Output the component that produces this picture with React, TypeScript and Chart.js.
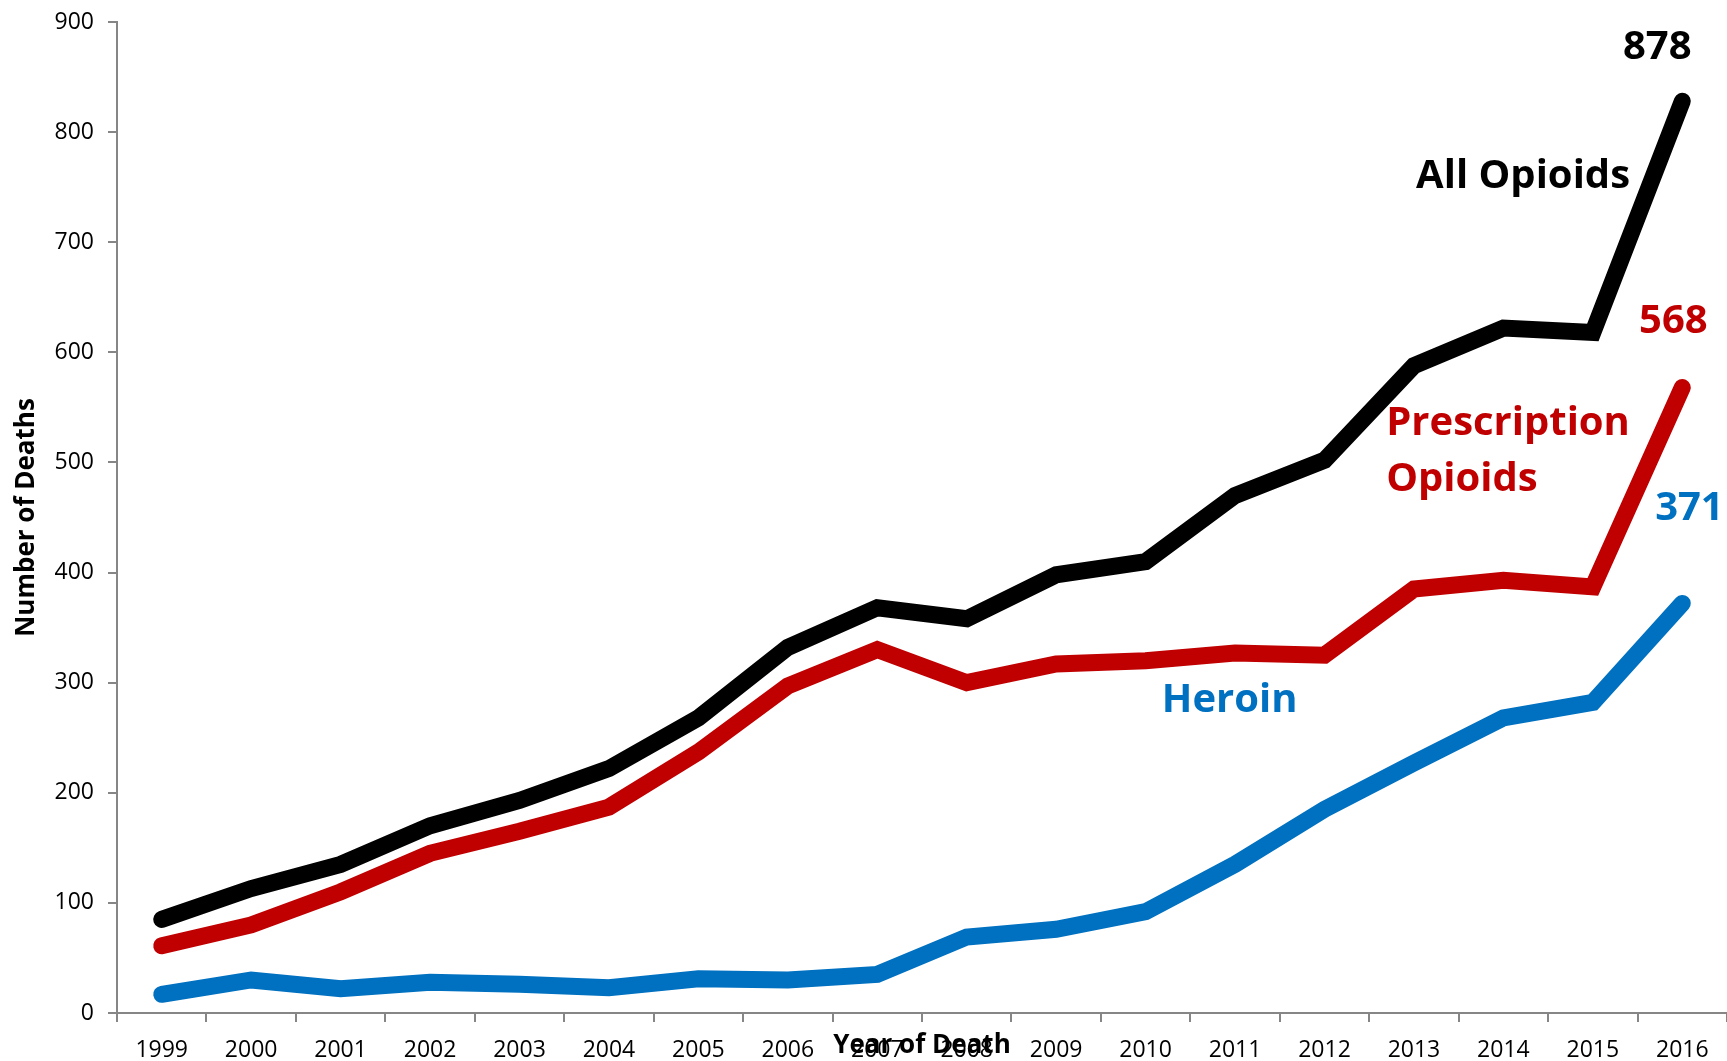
import React, { useEffect, useRef } from "react";
import { Chart, registerables } from "chart.js";

Chart.register(...registerables);

const years = ["1999", "2000", "2001", "2002", "2003", "2004", "2005", "2006", "2007", "2008", "2009", "2010", "2011", "2012", "2013", "2014", "2015", "2016"];
const allOpioids = [85, 113, 135, 170, 193, 222, 268, 332, 368, 358, 398, 410, 470, 502, 588, 622, 618, 828];
const prescriptionOpioids = [61, 80, 110, 145, 165, 187, 237, 297, 330, 300, 317, 320, 327, 325, 385, 393, 387, 568];
const heroin = [17, 30, 22, 28, 26, 23, 31, 30, 35, 69, 76, 92, 135, 185, 227, 268, 282, 372];
const yTicks = [0, 100, 200, 300, 400, 500, 600, 700, 800, 900];

const labelTexts = ["878", "All Opioids", "568", "Prescription", "Opioids", "371", "Heroin"];
const labelIdx = [16.72, 15.22, 16.9, 13.69, 13.69, 17.08, 11.94];
const labelVals = [877, 760, 628, 535, 484, 458, 284];
const labelColors = ["#000000", "#000000", "#C00000", "#C00000", "#C00000", "#0070C0", "#0070C0"];
const labelAligns = ["center", "center", "center", "left", "left", "center", "center"];

const FAMILY = '"Open Sans", "Noto Sans", sans-serif';
const AXIS_GREY = "#868686";

const annotationPlugin = {
  id: "annotations",
  afterDatasetsDraw(chart: any) {
    const { ctx, scales } = chart;
    const xs = scales.x;
    const ys = scales.y;
    ctx.save();
    ctx.font = `bold 40px ${FAMILY}`;
    ctx.textBaseline = "middle";
    labelTexts.forEach((t, i) => {
      ctx.fillStyle = labelColors[i];
      ctx.textAlign = labelAligns[i];
      ctx.fillText(t, xs.getPixelForValue(labelIdx[i]), ys.getPixelForValue(labelVals[i]));
    });
    ctx.restore();
  },
};

export default function App() {
  const ref = useRef<HTMLCanvasElement>(null);
  useEffect(() => {
    if (!ref.current) return;
    const lineStyle = {
      borderWidth: 17,
      pointRadius: 0,
      tension: 0,
      borderCapStyle: "round" as const,
      borderJoinStyle: "miter" as const,
      fill: false,
    };
    const chart = new Chart(ref.current, {
      type: "line",
      data: {
        labels: years,
        datasets: [
          { label: "All Opioids", data: allOpioids, borderColor: "#000000", backgroundColor: "#000000", ...lineStyle },
          { label: "Prescription Opioids", data: prescriptionOpioids, borderColor: "#C00000", backgroundColor: "#C00000", ...lineStyle },
          { label: "Heroin", data: heroin, borderColor: "#0070C0", backgroundColor: "#0070C0", ...lineStyle },
        ],
      },
      options: {
        responsive: false,
        animation: false,
        layout: { padding: { top: 22, right: 0, left: 0, bottom: 0 } },
        plugins: { legend: { display: false }, tooltip: { enabled: false } },
        scales: {
          x: {
            type: "category",
            offset: true,
            grid: { display: true, drawOnChartArea: false, drawTicks: true, tickLength: 9, color: AXIS_GREY, lineWidth: 2, offset: true },
            border: { display: true, color: AXIS_GREY, width: 2 },
            ticks: { color: "#000", font: { family: FAMILY, size: 23 }, padding: 15, maxRotation: 0, autoSkip: false },
            title: { display: true, text: "Year of Death", color: "#000", font: { family: FAMILY, size: 26, weight: "bold" }, padding: { top: 0, bottom: 0 } },
            afterFit: (s: any) => { s.height = 48; s.paddingLeft = 0; s.paddingRight = 0; },
          },
          y: {
            type: "linear",
            min: 0,
            max: 900,
            afterBuildTicks: (s: any) => { s.ticks = yTicks.map((v) => ({ value: v })); },
            grid: { display: true, drawOnChartArea: false, drawTicks: true, tickLength: 9, color: AXIS_GREY, lineWidth: 2 },
            border: { display: true, color: AXIS_GREY, width: 2 },
            ticks: { color: "#000", font: { family: FAMILY, size: 23 }, padding: 14 },
            title: { display: true, text: "Number of Deaths", color: "#000", font: { family: FAMILY, size: 26, weight: "bold" }, padding: { top: 11, bottom: 0 } },
            afterFit: (s: any) => { s.width = 117; s.paddingTop = 0; s.paddingBottom = 0; },
          },
        },
      },
      plugins: [annotationPlugin],
    });
    return () => chart.destroy();
  }, []);
  return (
    <div style={{ position: "absolute", left: 0, top: 0, width: 1727, height: 1061, background: "#fff" }}>
      <canvas ref={ref} width={1727} height={1061} style={{ display: "block" }} />
    </div>
  );
}
